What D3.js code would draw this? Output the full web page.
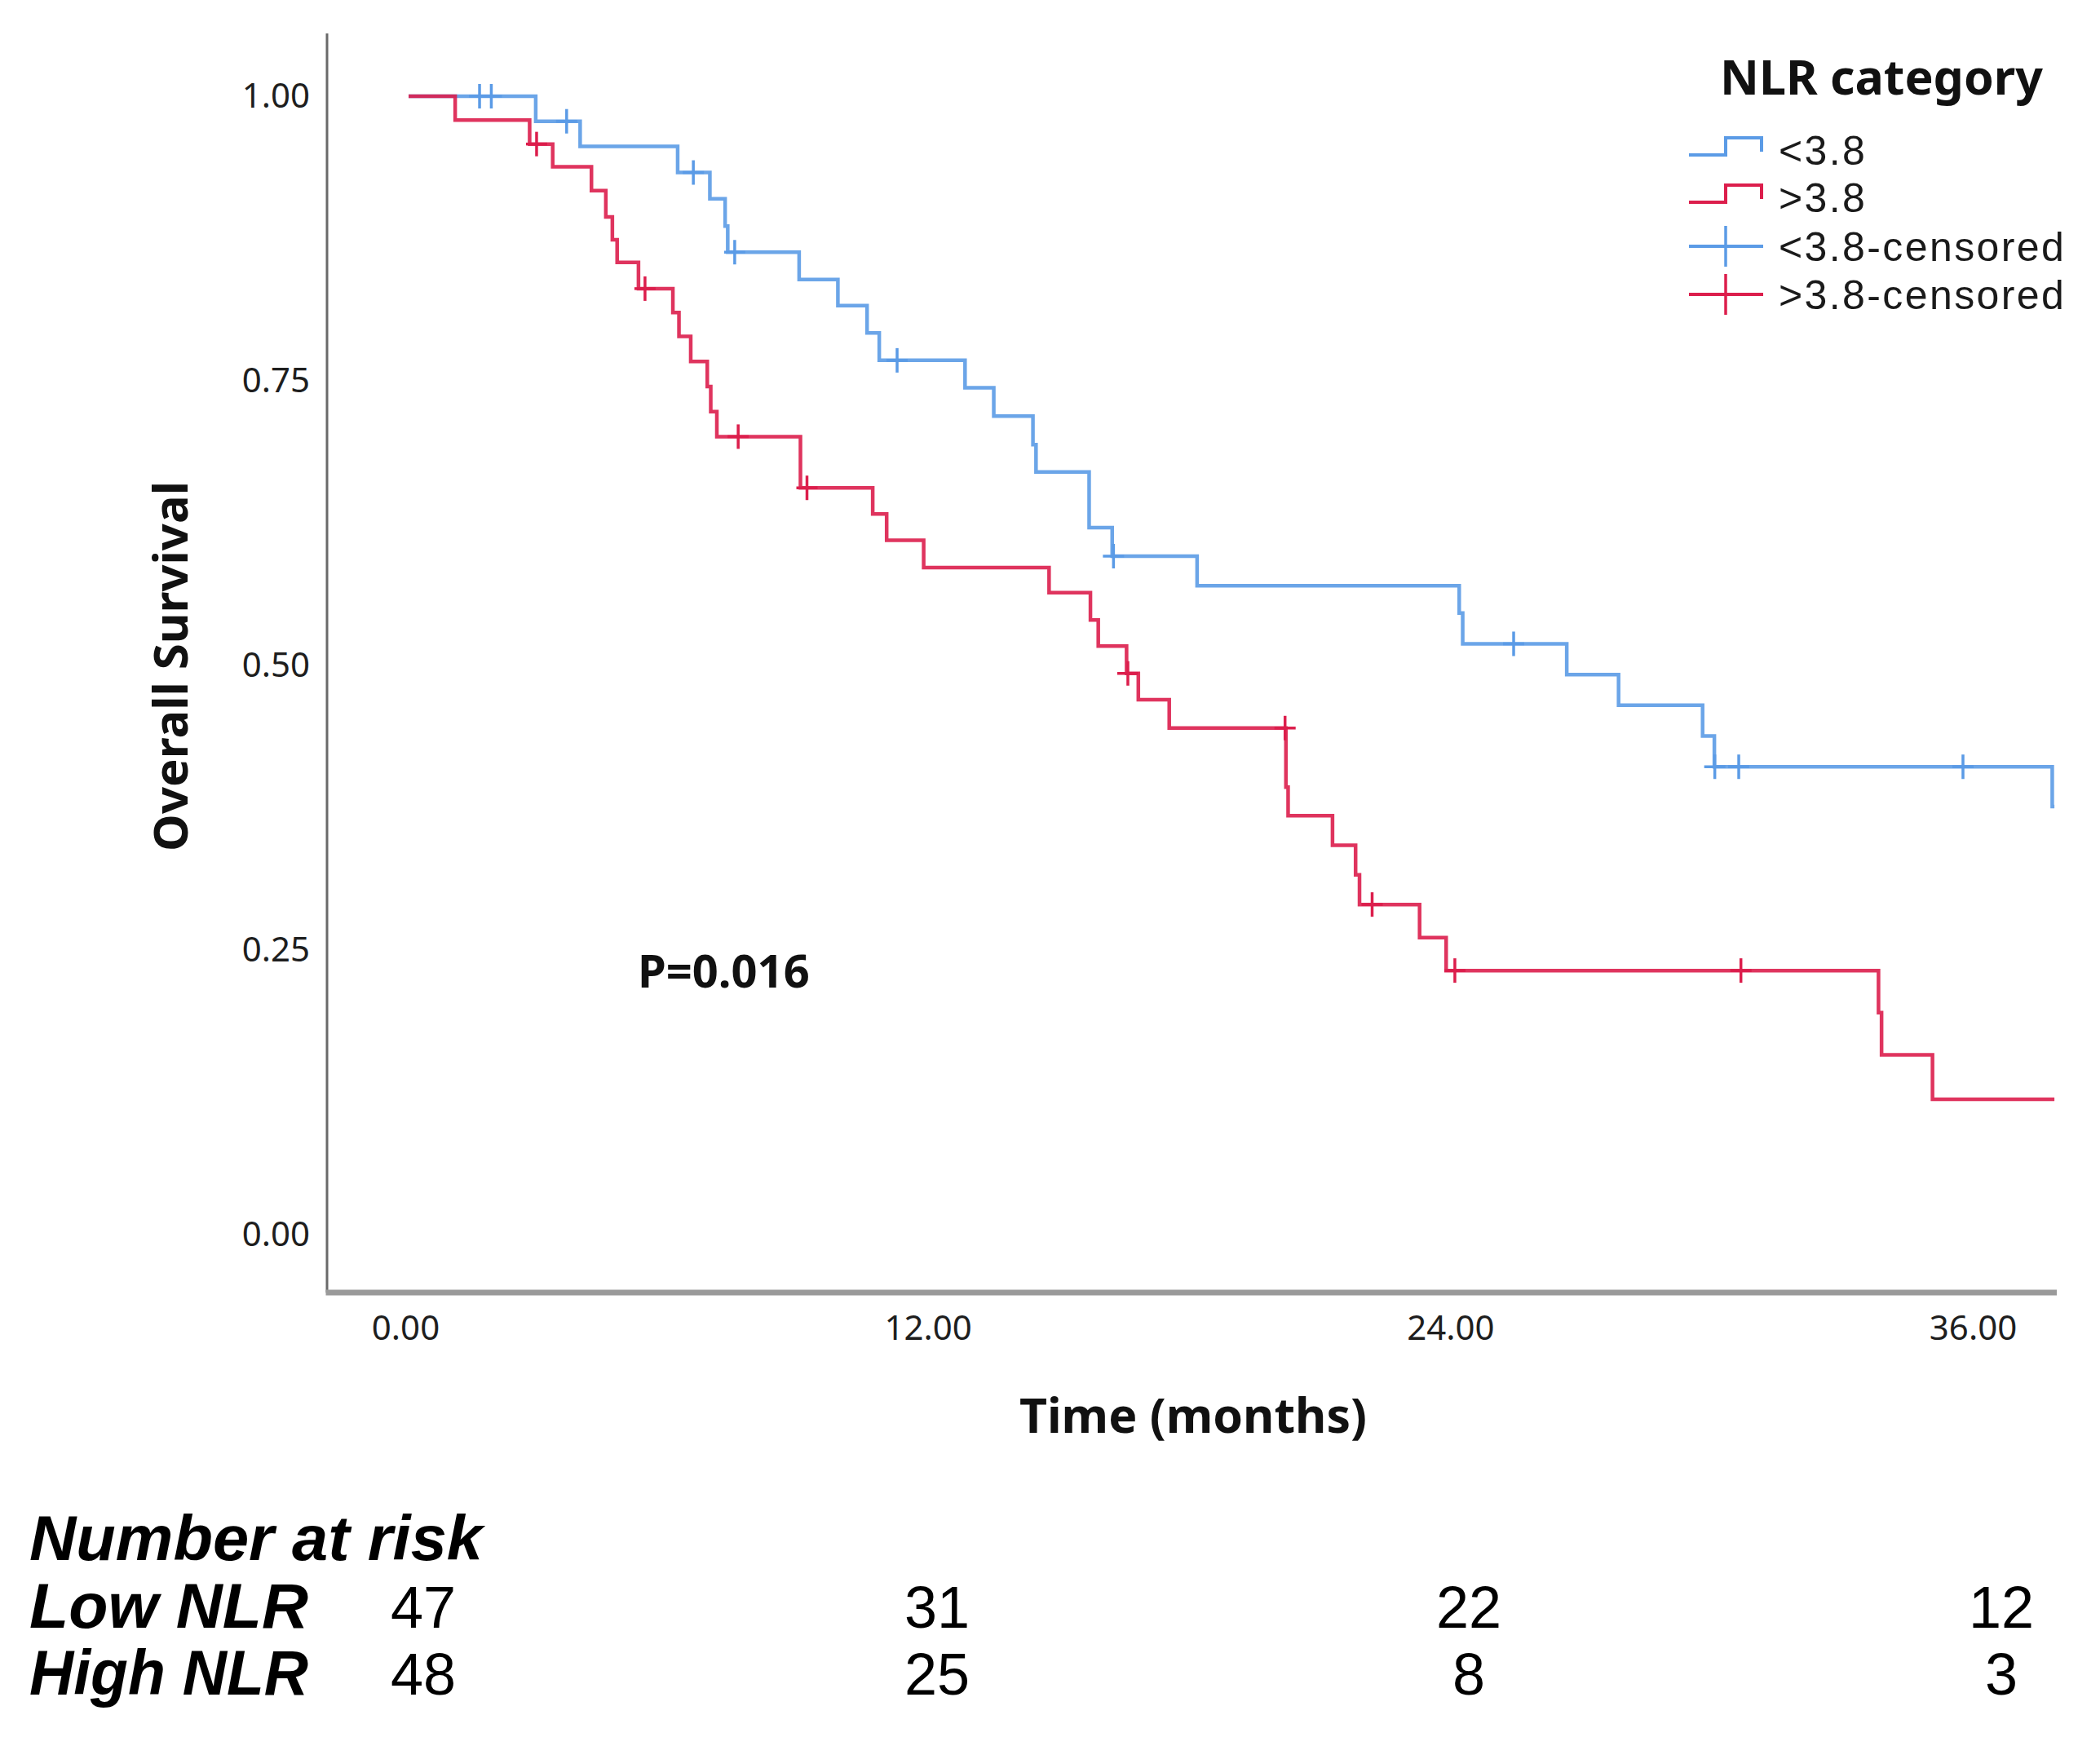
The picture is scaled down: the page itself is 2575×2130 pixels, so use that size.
<!DOCTYPE html>
<html>
<head>
<meta charset="utf-8">
<script src="https://cdn.jsdelivr.net/npm/d3@7/dist/d3.min.js"></script>
<style>
  html, body { margin: 0; padding: 0; background: #fff; }
  svg { display: block; }
</style>
</head>
<body>
<div id="chart"></div>
<script>
// ---------- data ----------
const seriesNames = ["<3.8", ">3.8"];
// Low NLR (<3.8): event times (months) and survival after each step
const lowTimes = [0, 2.92, 3.94, 6.18, 6.92, 7.27, 7.33, 8.97, 9.86, 10.53, 10.81, 12.78, 13.44, 14.34, 14.41, 15.63, 16.16, 18.11, 24.13, 24.21, 26.6, 27.79, 29.72, 29.99, 37.75];
const lowSurv  = [1.0, 0.978, 0.956, 0.933, 0.910, 0.886, 0.863, 0.839, 0.816, 0.792, 0.768, 0.744, 0.719, 0.694, 0.670, 0.621, 0.596, 0.570, 0.546, 0.519, 0.492, 0.465, 0.438, 0.411, 0.376];
const lowEnd = 37.8;
const lowCensored = [1.63, 1.90, 3.63, 6.54, 7.49, 11.22, 16.19, 25.38, 30.0, 30.55, 35.7];
// High NLR (>3.8)
const highTimes = [0, 1.07, 2.78, 3.31, 4.2, 4.53, 4.68, 4.79, 5.28, 6.07, 6.21, 6.48, 6.86, 6.94, 7.08, 9.0, 10.66, 10.98, 11.83, 14.71, 15.66, 15.84, 16.49, 16.76, 17.47, 20.15, 20.2, 21.22, 21.75, 21.84, 23.22, 23.83, 33.76, 33.83, 35.0];
const highSurv  = [1.0, 0.979, 0.958, 0.938, 0.917, 0.894, 0.874, 0.854, 0.831, 0.810, 0.789, 0.767, 0.745, 0.723, 0.701, 0.656, 0.633, 0.610, 0.586, 0.564, 0.540, 0.517, 0.493, 0.470, 0.445, 0.393, 0.368, 0.342, 0.316, 0.290, 0.261, 0.232, 0.195, 0.158, 0.119];
const highEnd = 37.8;
const highCensored = [2.94, 5.43, 7.57, 9.15, 16.52, 20.13, 22.13, 24.03, 30.6];

const xTicks = [0, 12, 24, 36];
const yTicks = [0, 0.25, 0.5, 0.75, 1.0];
const riskTimes = [0, 12, 24, 36];
const riskLabels = ["Low NLR", "High NLR"];
const riskLow = [47, 31, 22, 12];
const riskHigh = [48, 25, 8, 3];
const legendLabels = ["<3.8", ">3.8", "<3.8-censored", ">3.8-censored"];
const pText = "P=0.016";

// ---------- layout ----------
const W = 2575, H = 2130;
const colors = { low: "#5b9be6", high: "#dc1e4c" };

const svg = d3.select("#chart").append("svg")
  .attr("width", W).attr("height", H)
  .attr("viewBox", `0 0 ${W} ${H}`);

const x = d3.scaleLinear().domain([0, 36]).range([501, 2423]);
const y = d3.scaleLinear().domain([0, 1]).range([1514, 118]);

const axisLeftX = 401, axisBottomY = 1585;
const plotTop = 41, plotRight = 2522;

// axes lines
svg.append("line")
  .attr("x1", axisLeftX).attr("x2", axisLeftX)
  .attr("y1", plotTop).attr("y2", axisBottomY)
  .attr("stroke", "#6a6a6a").attr("stroke-width", 3);
svg.append("line")
  .attr("x1", axisLeftX - 1.5).attr("x2", plotRight)
  .attr("y1", axisBottomY).attr("y2", axisBottomY)
  .attr("stroke", "#9a9a9a").attr("stroke-width", 7);

// y axis labels
const yAxis = d3.axisLeft(y).tickValues(yTicks).tickFormat(d3.format(".2f")).tickSize(0).tickPadding(21);
const gy = svg.append("g").attr("transform", `translate(${axisLeftX},0)`).call(yAxis);
gy.select(".domain").remove();
gy.selectAll("text")
  .attr("font-family", "'Noto Sans', sans-serif")
  .attr("font-size", 42).attr("fill", "#1e1e1e");

// x axis labels
const xAxis = d3.axisBottom(x).tickValues(xTicks).tickFormat(d3.format(".2f")).tickSize(0).tickPadding(0);
const gx = svg.append("g").attr("transform", `translate(0,${axisBottomY})`).call(xAxis);
gx.select(".domain").remove();
gx.selectAll("text")
  .attr("y", 58).attr("dy", null)
  .attr("dx", -4)
  .attr("font-family", "'Noto Sans', sans-serif")
  .attr("font-size", 42).attr("fill", "#1e1e1e");

// axis titles
svg.append("text")
  .attr("x", 1463).attr("y", 1757)
  .attr("text-anchor", "middle")
  .attr("font-family", "'Noto Sans', sans-serif").attr("font-weight", "bold")
  .attr("font-size", 59).attr("fill", "#111")
  .text("Time (months)");
svg.append("text")
  .attr("transform", "translate(230,817) rotate(-90)")
  .attr("text-anchor", "middle")
  .attr("font-family", "'Noto Sans', sans-serif").attr("font-weight", "bold")
  .attr("font-size", 58).attr("fill", "#111")
  .text("Overall Survival");

// ---------- curves ----------
function stepPoints(times, surv, end) {
  const pts = times.map((t, i) => [t, surv[i]]);
  pts.push([end, surv[surv.length - 1]]);
  return pts;
}
function survAt(times, surv, t) {
  let s = surv[0];
  for (let i = 0; i < times.length; i++) { if (times[i] <= t) s = surv[i]; }
  return s;
}
const line = d3.line().x(d => x(d[0])).y(d => y(d[1])).curve(d3.curveStepAfter);

const series = [
  { key: "low", times: lowTimes, surv: lowSurv, end: lowEnd, cens: lowCensored },
  { key: "high", times: highTimes, surv: highSurv, end: highEnd, cens: highCensored }
];
series.forEach(s => {
  svg.append("path")
    .datum(stepPoints(s.times, s.surv, s.end))
    .attr("d", line)
    .attr("fill", "none")
    .attr("stroke", colors[s.key])
    .attr("stroke-width", 4.5)
    .attr("stroke-opacity", 0.9)
    .attr("stroke-linejoin", "miter");
  const g = svg.append("g");
  s.cens.forEach(t => {
    const cx = x(t), cy = y(survAt(s.times, s.surv, t));
    g.append("line").attr("x1", cx - 13).attr("x2", cx + 13).attr("y1", cy).attr("y2", cy)
      .attr("stroke", colors[s.key]).attr("stroke-width", 3.5);
    g.append("line").attr("x1", cx).attr("x2", cx).attr("y1", cy - 15).attr("y2", cy + 15)
      .attr("stroke", colors[s.key]).attr("stroke-width", 3.5);
  });
});

// P value
svg.append("text")
  .attr("x", 782).attr("y", 1211)
  .attr("font-family", "'Noto Sans', sans-serif").attr("font-weight", "bold")
  .attr("font-size", 56).attr("fill", "#111")
  .text(pText);

// ---------- legend ----------
svg.append("text")
  .attr("x", 2109).attr("y", 116)
  .attr("font-family", "'Noto Sans', sans-serif").attr("font-weight", "bold")
  .attr("font-size", 59).attr("fill", "#111")
  .text("NLR category");
const legRows = [184, 242, 302, 361];
const legColors = [colors.low, colors.high, colors.low, colors.high];
legendLabels.forEach((lab, i) => {
  const cy = legRows[i];
  const c = legColors[i];
  if (i < 2) {
    svg.append("path")
      .attr("d", `M2071,${cy + 6} H2116 V${cy - 15} H2160 V${cy + 2}`)
      .attr("fill", "none").attr("stroke", c).attr("stroke-width", 4);
  } else {
    svg.append("line").attr("x1", 2071).attr("x2", 2162).attr("y1", cy).attr("y2", cy)
      .attr("stroke", c).attr("stroke-width", 4);
    svg.append("line").attr("x1", 2116).attr("x2", 2116).attr("y1", cy - 25).attr("y2", cy + 25)
      .attr("stroke", c).attr("stroke-width", 3.5);
  }
  svg.append("text")
    .attr("x", 2181).attr("y", cy + 18)
    .attr("font-family", "'Liberation Sans', Arial, sans-serif")
    .attr("font-size", 50).attr("letter-spacing", 2.4).attr("fill", "#1a1a1a")
    .text(lab);
});

// ---------- number at risk ----------
const riskX = d3.scaleLinear().domain(riskTimes).range([519, 1149, 1801, 2454]);
svg.append("text")
  .attr("x", 36).attr("y", 1913)
  .attr("font-family", "'Liberation Sans', Arial, sans-serif")
  .attr("font-weight", "bold").attr("font-style", "italic")
  .attr("font-size", 78).attr("fill", "#000")
  .attr("textLength", 556).attr("lengthAdjust", "spacingAndGlyphs")
  .text("Number at risk");
const riskRows = [{ label: riskLabels[0], vals: riskLow, yb: 1996 }, { label: riskLabels[1], vals: riskHigh, yb: 2078 }];
riskRows.forEach(r => {
  svg.append("text")
    .attr("x", 36).attr("y", r.yb)
    .attr("font-family", "'Liberation Sans', Arial, sans-serif")
    .attr("font-weight", "bold").attr("font-style", "italic")
    .attr("font-size", 78).attr("fill", "#000")
    .attr("textLength", 342).attr("lengthAdjust", "spacingAndGlyphs")
    .text(r.label);
  r.vals.forEach((v, i) => {
    svg.append("text")
      .attr("x", riskX(riskTimes[i])).attr("y", r.yb)
      .attr("text-anchor", "middle")
      .attr("font-family", "'Liberation Sans', Arial, sans-serif")
      .attr("font-size", 72).attr("fill", "#000")
      .text(v);
  });
});
</script>
</body>
</html>
